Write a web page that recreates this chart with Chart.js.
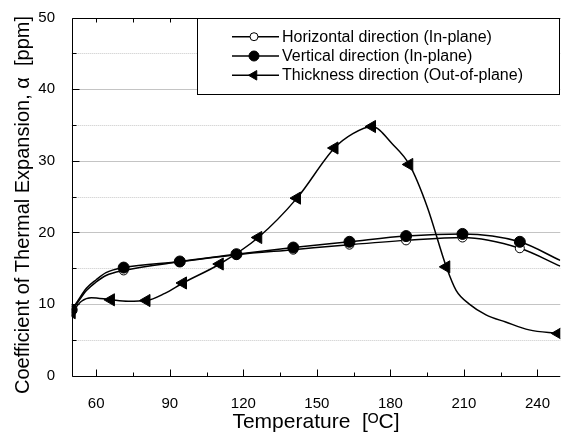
<!DOCTYPE html>
<html>
<head>
<meta charset="utf-8">
<script src="https://cdn.jsdelivr.net/npm/chart.js@4"></script>
<style>
  body { margin: 0; background: #fff; }
  #wrap { width: 561px; height: 442px; }
</style>
</head>
<body>
<div id="wrap"><canvas id="cte-chart" width="561" height="442"></canvas></div>
<script>
// data
const seriesNames = [
	'Horizontal direction (In-plane)',
	'Vertical direction (In-plane)',
	'Thickness direction (Out-of-plane)'
];

// in-plane curves (same temperature samples)
const inPlaneTemp = [50, 52, 56, 60, 64, 71.2, 94.1, 117.2, 140.4, 163.3, 186.4, 209.4, 232.8, 249.3];
const horizCte    = [9.0, 10.0, 11.9, 13.1, 14.0, 14.7, 15.9, 16.9, 17.6, 18.3, 18.9, 19.3, 17.8, 15.3];
const vertCte     = [9.2, 10.2, 12.2, 13.4, 14.4, 15.1, 15.95, 16.97, 17.9, 18.7, 19.5, 19.8, 18.7, 16.1];
const inPlaneMarker = [1, 0, 0, 0, 0, 1, 1, 1, 1, 1, 1, 1, 1, 0];

// out-of-plane curve
const thickTemp = [50, 54, 58, 66, 73, 80.5, 88, 95.4, 110.4, 126.1, 141.9, 157.2, 164.7, 172.5, 181, 187.7, 195, 202.8, 206.8, 212.2, 219, 227, 236.6, 248.5];
const thickCte  = [8.8, 10.4, 10.9, 10.6, 10.4, 10.5, 11.5, 12.95, 15.6, 19.3, 24.8, 31.8, 33.8, 34.8, 32.3, 29.5, 23.6, 15.2, 11.9, 10.0, 8.5, 7.5, 6.4, 5.9];
const thickMarker = [1, 0, 0, 1, 0, 1, 0, 1, 1, 1, 1, 1, 0, 1, 0, 1, 0, 1, 0, 0, 0, 0, 0, 1];

const xTicks = [60, 90, 120, 150, 180, 210, 240];
const xMinorTicks = [75, 105, 135, 165, 195, 225];
const yTicks = [0, 10, 20, 30, 40, 50];
const yMinorTicks = [5, 15, 25, 35, 45];

const FONT = 'Arial, "Liberation Sans", sans-serif';

function pts(xs, ys) {
	return xs.map(function (x, i) { return { x: x, y: ys[i] }; });
}

const markerStyles = [
	{ pointStyle: 'circle', radius: 4.5, fill: '#fff', rotation: 0 },
	{ pointStyle: 'circle', radius: 5.5, fill: '#000', rotation: 0 },
	{ pointStyle: 'triangle', radius: 7, fill: '#000', rotation: -90 }
];

function makeDataset(i, xs, ys, marks, order) {
	const m = markerStyles[i];
	return {
		label: seriesNames[i],
		data: pts(xs, ys),
		order: order,
		showLine: true,
		borderColor: '#000',
		borderWidth: 1.5,
		cubicInterpolationMode: 'monotone',
		pointStyle: m.pointStyle,
		pointRotation: m.rotation,
		pointRadius: marks.map(function (f) { return f ? m.radius : 0; }),
		pointHoverRadius: 0,
		pointBackgroundColor: m.fill,
		pointBorderColor: '#000',
		pointBorderWidth: 1
	};
}

// grid lines, frame and inward tick marks
const framePlugin = {
	id: 'frame',
	beforeDatasetsDraw: function (chart) {
		const ctx = chart.ctx;
		const a = chart.chartArea;
		const ys = chart.scales.y;
		ctx.save();
		ctx.lineWidth = 1;
		ctx.strokeStyle = '#c8c8c8';
		ctx.setLineDash([1, 1]);
		yMinorTicks.forEach(function (v) {
			const y = Math.round(ys.getPixelForValue(v)) + 0.5;
			ctx.beginPath(); ctx.moveTo(a.left, y); ctx.lineTo(a.right, y); ctx.stroke();
		});
		ctx.setLineDash([]);
		ctx.strokeStyle = '#c4c4c4';
		yTicks.slice(1, -1).forEach(function (v) {
			const y = Math.round(ys.getPixelForValue(v)) + 0.5;
			ctx.beginPath(); ctx.moveTo(a.left, y); ctx.lineTo(a.right, y); ctx.stroke();
		});
		ctx.restore();
	},
	afterDatasetsDraw: function (chart) {
		const ctx = chart.ctx;
		const a = chart.chartArea;
		const xs = chart.scales.x, ys = chart.scales.y;
		ctx.save();
		ctx.strokeStyle = '#000';
		ctx.lineWidth = 1;
		const top = Math.round(a.top) + 0.5;
		const bottom = Math.round(a.bottom) + 0.5;
		const left = Math.round(a.left) + 0.5;
		ctx.beginPath();
		ctx.moveTo(left, bottom); ctx.lineTo(left, top); ctx.lineTo(a.right, top);
		ctx.moveTo(left, bottom); ctx.lineTo(a.right, bottom);
		ctx.stroke();
		ctx.beginPath();
		xTicks.concat(xMinorTicks).forEach(function (v) {
			const x = Math.round(xs.getPixelForValue(v)) + 0.5;
			const len = xTicks.indexOf(v) >= 0 ? 7 : 4;
			ctx.moveTo(x, bottom); ctx.lineTo(x, bottom - len);
			ctx.moveTo(x, top); ctx.lineTo(x, top + 4);
		});
		yTicks.concat(yMinorTicks).forEach(function (v) {
			const y = Math.round(ys.getPixelForValue(v)) + 0.5;
			const len = yTicks.indexOf(v) >= 0 ? 7 : 4;
			ctx.moveTo(left, y); ctx.lineTo(left + len, y);
		});
		ctx.stroke();
		ctx.restore();
	},
	afterDraw: function (chart) {
		// legend box with line + marker samples
		const ctx = chart.ctx;
		ctx.save();
		ctx.fillStyle = '#fff';
		ctx.fillRect(197.5, 18.5, 362, 76);
		ctx.strokeStyle = '#000';
		ctx.lineWidth = 1;
		ctx.strokeRect(197.5, 18.5, 362, 76);
		const rows = [36.7, 56, 75.3];
		rows.forEach(function (y, i) {
			const m = markerStyles[i];
			ctx.strokeStyle = '#000';
			ctx.lineWidth = 1.5;
			ctx.beginPath(); ctx.moveTo(232, y); ctx.lineTo(279, y); ctx.stroke();
			ctx.fillStyle = m.fill;
			ctx.lineWidth = 1;
			Chart.helpers.drawPoint(ctx, {
				pointStyle: m.pointStyle,
				rotation: m.rotation,
				radius: m.radius - (i === 2 ? 1.5 : 0.5),
				borderWidth: 1
			}, 254, y);
			ctx.fillStyle = '#000';
			ctx.font = '16px ' + FONT;
			ctx.textBaseline = 'middle';
			ctx.textAlign = 'left';
			ctx.fillText(seriesNames[i], 282, y + 0.5);
		});
		ctx.restore();
	}
};

const cteChart = new Chart(document.getElementById('cte-chart'), {
	type: 'scatter',
	data: {
		datasets: [
			makeDataset(0, inPlaneTemp, horizCte, inPlaneMarker, 2),
			makeDataset(1, inPlaneTemp, vertCte, inPlaneMarker, 1),
			makeDataset(2, thickTemp, thickCte, thickMarker, 0)
		]
	},
	options: {
		responsive: false,
		animation: false,
		events: [],
		layout: { autoPadding: false, padding: { top: 15, right: 0, left: 0, bottom: 0 } },
		plugins: {
			legend: { display: false },
			tooltip: { enabled: false }
		},
		scales: {
			x: {
				type: 'linear',
				min: 50,
				max: 249.3,
				afterBuildTicks: function (s) { s.ticks = xTicks.map(function (v) { return { value: v }; }); },
				afterFit: function (s) { s.height = 66.3; },
				grid: { display: false },
				border: { display: false },
				ticks: { color: '#000', padding: 11, font: { family: FONT, size: 15 }, maxRotation: 0 },
				title: {
					display: true,
					text: 'Temperature  [\u1D3CC]',
					color: '#000',
					font: { family: FONT, size: 21 },
					padding: { top: 0, bottom: 6.7 }
				}
			},
			y: {
				min: 0,
				max: 50,
				afterBuildTicks: function (s) { s.ticks = yTicks.map(function (v) { return { value: v }; }); },
				afterFit: function (s) { s.width = 71.7; },
				grid: { display: false },
				border: { display: false },
				ticks: { color: '#000', padding: 8.7, font: { family: FONT, size: 15 } },
				title: {
					display: true,
					text: 'Coefficient of Thermal Expansion, \u03B1  [ppm]   ',
					color: '#000',
					font: { family: FONT, size: 20 },
					padding: { top: 11, bottom: 0 }
				}
			}
		}
	},
	plugins: [framePlugin]
});
</script>
</body>
</html>
